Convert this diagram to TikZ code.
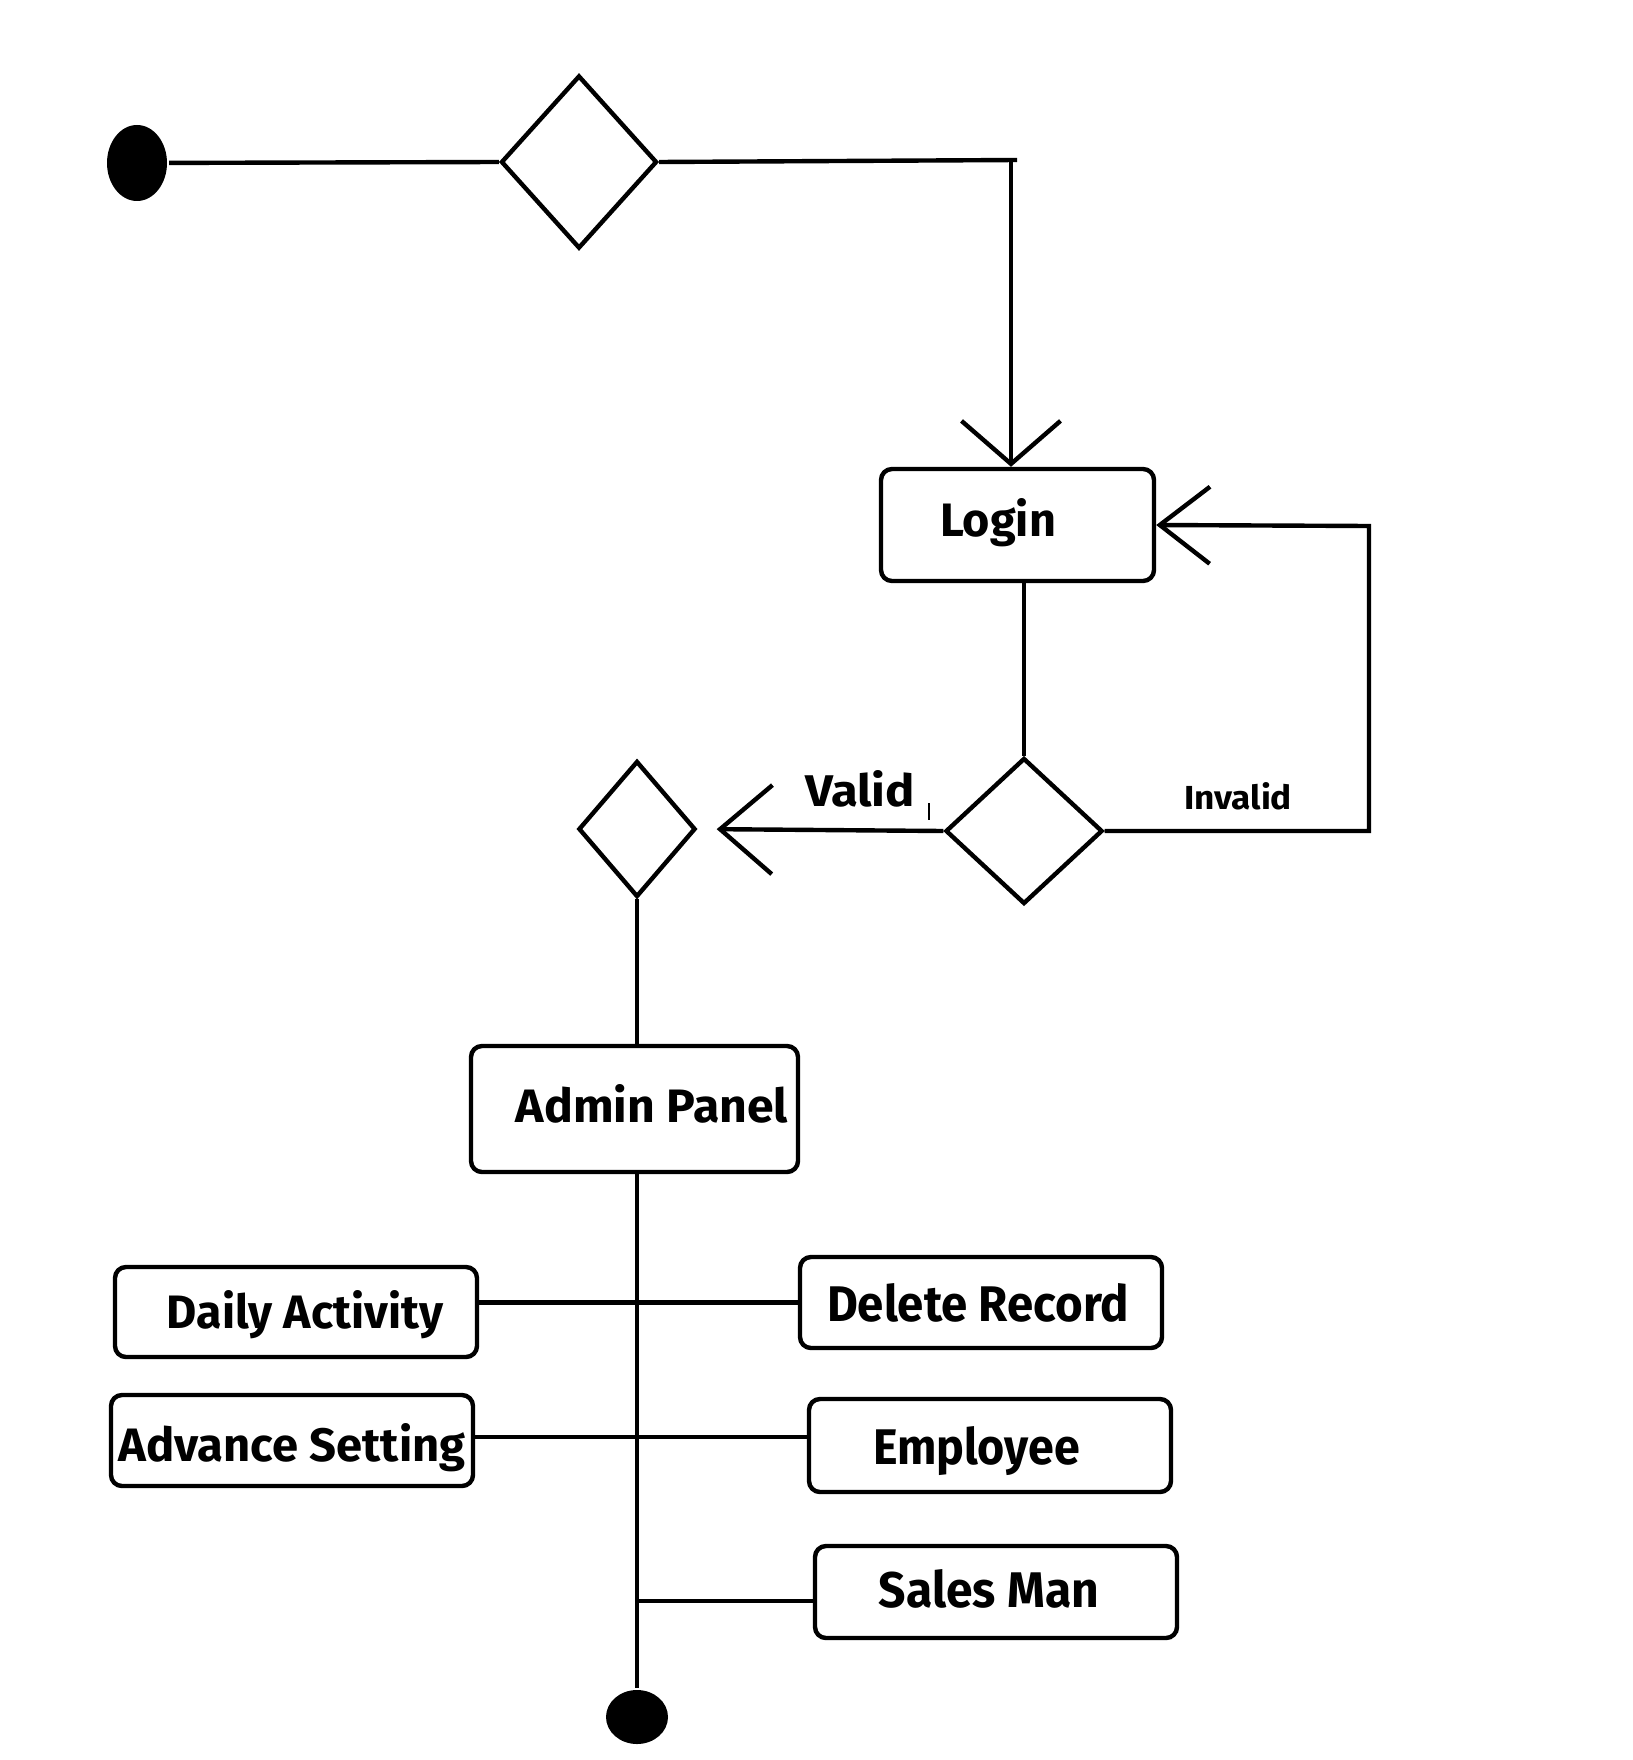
\documentclass[tikz,border=0pt]{standalone}
\usepackage{fontspec}
\setmainfont{Fira Sans}
\usetikzlibrary{shapes.geometric,arrows.meta}
\newcommand\fitlabel[3]{\resizebox{#1}{#2}{\bfseries #3}}
\begin{document}
\begin{tikzpicture}[x=0.5pt,y=-0.5pt,line width=2.2pt,
  box/.style={draw,rounded corners=5.5pt,inner sep=0pt,minimum width=181pt},
  dia/.style={draw,diamond,inner sep=0pt},
  dot/.style={fill,ellipse,inner sep=0pt},
  lbl/.style={inner sep=0pt,anchor=base},
  tipdown/.style={-{Straight Barb[length=21.5pt,width=49.5pt]}},
  tipleft/.style={-{Straight Barb[length=25pt,width=38.5pt]}},
  tipvalid/.style={-{Straight Barb[length=26pt,width=44.5pt]}}]
\fill[white] (0,0) rectangle (1632,1760);
\useasboundingbox (0,0) rectangle (1632,1760);
% nodes
\node[dot,minimum width=30pt,minimum height=38pt] (start) at (137,163) {};
\node[dia,minimum width=78pt,minimum height=86.5pt] (d1) at (579,162) {};
\node[box,minimum width=136.5pt,minimum height=56pt] (login) at (1017.5,525) {};
\node[dia,minimum width=78.5pt,minimum height=73pt] (d2) at (1024,831) {};
\node[dia,minimum width=58.5pt,minimum height=68pt] (d3) at (637,829) {};
\node[box,minimum width=163.5pt,minimum height=63pt] (admin) at (634.5,1109) {};
\node[box,minimum height=45pt] (daily) at (296,1312) {};
\node[box,minimum height=45.5pt] (delete) at (981,1302.5) {};
\node[box,minimum height=45.5pt] (advance) at (292,1440.5) {};
\node[box,minimum height=46.5pt] (employee) at (990,1445.5) {};
\node[box,minimum height=46pt] (sales) at (996,1592) {};
\node[dot,minimum width=31pt,minimum height=27pt] (end) at (637,1717) {};
% labels
\node[lbl] (tlogin) at (998,536.5) {\fitlabel{58pt}{19pt}{Login}};
\node[lbl] (tadmin) at (652,1122) {\fitlabel{136pt}{19pt}{Admin Panel}};
\node[lbl] (tdaily) at (305,1328) {\fitlabel{138pt}{19pt}{Daily Activity}};
\node[lbl] (tdelete) at (978,1321) {\fitlabel{151pt}{19pt}{Delete Record}};
\node[lbl] (tadv) at (292,1461) {\fitlabel{173.5pt}{19pt}{Advance Setting}};
\node[lbl] (temp) at (976.5,1464) {\fitlabel{103.5pt}{19pt}{Employee}};
\node[lbl] (tsales) at (989,1607) {\fitlabel{110pt}{19pt}{Sales Man}};
\node[lbl] (tvalid) at (860,806) {\fitlabel{55pt}{18pt}{Valid}};
\node[lbl] (tinvalid) at (1238,809) {\resizebox{54pt}{13.5pt}{\fontseries{sb}\selectfont Invalid}};
% connectors
\coordinate (c1) at (1011,160);
\coordinate (c1s) at (1017,160);
\coordinate (r) at (1369,526);
\draw (start) -- (d1.west);
\draw (d1.east) -- (c1s);
\draw[tipdown] (c1) -- (c1 |- login.north);
\draw (d2.north |- login.south) -- (d2.north);
\draw[tipleft] (d2.east) -| (r) -- (login.east);
\draw[tipvalid,shorten >=9.5pt] (d2.west) -- (d3.east);
\draw (d3.south) -- (d3.south |- admin.north);
\draw (end.north |- admin.south) -- (end.north);
\draw (daily.east |- delete.west) -- (delete.west);
\coordinate (y2) at (0,1437);
\draw (advance.east |- y2) -- (employee.west |- y2);
\coordinate (y3) at (0,1601);
\draw (end.north |- y3) -- (sales.west |- y3);
\draw[line width=1pt] (929,803) -- (929,820);
\end{tikzpicture}
\end{document}
